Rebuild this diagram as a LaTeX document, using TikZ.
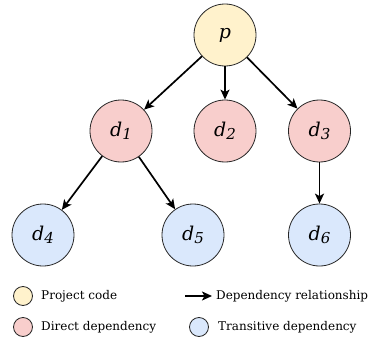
\documentclass[tikz,border=0pt]{standalone}
\usepackage{fontspec}
\setmainfont{DejaVu Serif}
\newfontfamily\lblfont{DejaVu Serif}
\usetikzlibrary{arrows.meta}
\definecolor{projfill}{HTML}{FFF2CC}
\definecolor{directfill}{HTML}{F8CECC}
\definecolor{transfill}{HTML}{DAE8FC}
\newcommand{\dlabel}[1]{{\lblfont\itshape d\raisebox{-3.5pt}{\fontsize{15}{15}\selectfont #1}}}
\tikzset{
  pkg/.style={circle, draw=black!85, line width=0.8pt, minimum size=62pt, inner sep=0pt,
    font=\fontsize{19}{19}\selectfont},
  proj/.style={pkg, fill=projfill},
  direct/.style={pkg, fill=directfill},
  trans/.style={pkg, fill=transfill},
  dep/.style={line width=1.7pt, -{Stealth[length=10pt, width=9pt, inset=2.5pt]}},
  keydot/.style={circle, draw=black!85, line width=0.8pt, minimum size=19pt, inner sep=0pt},
  keytext/.style={anchor=west, inner sep=0pt, font=\fontsize{12}{12}\selectfont},
}
\begin{document}
\begin{tikzpicture}[x=1pt, y=-1pt]
  \useasboundingbox (0,0) rectangle (372,337);

  % dependency tree
  \node[proj]   (p)  at (225,35)  {\lblfont\itshape p};
  \node[direct] (d1) at (121,131) {\dlabel{1}};
  \node[direct] (d2) at (225,131) {\dlabel{2}};
  \node[direct] (d3) at (319.5,131) {\dlabel{3}};
  \node[trans]  (d4) at (43,235)  {\dlabel{4}};
  \node[trans]  (d5) at (193,235) {\dlabel{5}};
  \node[trans]  (d6) at (319.5,235) {\dlabel{6}};

  \draw[dep] (p)  -- (d1);
  \draw[dep] (p)  -- (d2);
  \draw[dep] (p)  -- (d3);
  \draw[dep] (d1) -- (d4);
  \draw[dep] (d1) -- (d5);
  \draw[dep] (d3) -- (d6);

  % legend
  \node[keydot, fill=projfill]   (kp) at (23,296) {};
  \node[keytext] (kpt) at (41,296) {Project code};
  \node[keydot, fill=directfill] (kd) at (23,327) {};
  \node[keytext] (kdt) at (41,327) {Direct dependency};
  \coordinate (ka) at (185,296);
  \coordinate (kb) at (212,296);
  \draw[dep] (ka) -- (kb);
  \node[keytext] (kat) at (216,296) {Dependency relationship};
  \node[keydot, fill=transfill]  (kt) at (199,327) {};
  \node[keytext] (ktt) at (218,327) {Transitive dependency};
\end{tikzpicture}
\end{document}
